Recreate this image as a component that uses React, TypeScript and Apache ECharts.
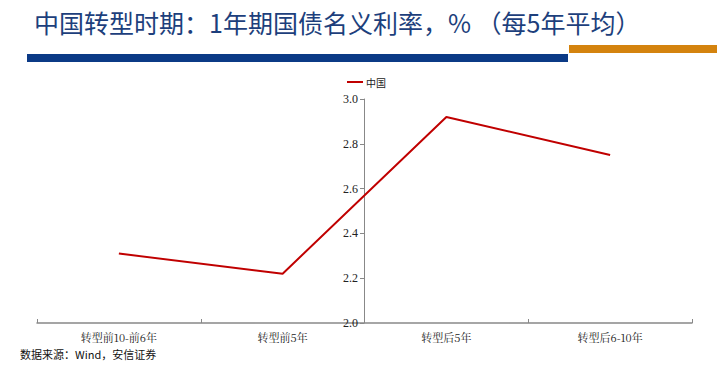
import React, { useEffect, useRef } from "react";
import * as echarts from "echarts";

const categories = ["转型前10-前6年", "转型前5年", "转型后5年", "转型后6-10年"];
const chinaValues = [2.31, 2.22, 2.92, 2.75];
const seriesName = "中国";
const titleText = "中国转型时期：1年期国债名义利率，% （每5年平均）";
const sourceText = "数据来源：Wind，安信证券";

const sans = '"Noto Sans CJK SC", "Noto Sans", sans-serif';

export default function App() {
  const ref = useRef<HTMLDivElement>(null);
  useEffect(() => {
    if (!ref.current) return;
    const chart = echarts.init(ref.current, undefined, { renderer: "svg" });
    chart.setOption({
      animation: false,
      backgroundColor: "#ffffff",
      graphic: [
        {
          type: "text",
          left: 34,
          top: 9,
          style: {
            text: titleText,
            fill: "#1d3f7c",
            fontSize: 25,
            fontFamily: sans,
          },
        },
        { type: "rect", shape: { x: 27, y: 54, width: 541, height: 8 }, style: { fill: "#0b3a86" } },
        { type: "rect", shape: { x: 569, y: 45, width: 148, height: 8 }, style: { fill: "#d4830e" } },
        {
          type: "text",
          left: 20,
          top: 348,
          style: {
            text: sourceText,
            fill: "#111",
            fontSize: 11,
            fontFamily: sans,
          },
        },
      ],
      legend: {
        top: 72,
        left: 342,
        itemWidth: 16,
        itemHeight: 2,
        icon: "rect",
        itemGap: 4,
        textStyle: { fontSize: 10, color: "#222", fontFamily: sans, padding: [0, 0, 0, -2] },
        data: [seriesName],
      },
      grid: { left: 37, right: 25, top: 99, bottom: 43 },
      xAxis: {
        type: "category",
        data: categories,
        boundaryGap: true,
        axisLine: { lineStyle: { color: "#888", width: 1.5 } },
        axisTick: { show: true, alignWithLabel: false, length: 4, inside: true, lineStyle: { color: "#888" } },
        axisLabel: { color: "#222", fontSize: 11, margin: 8, fontFamily: '"Noto Serif CJK SC", "Noto Sans CJK SC", serif' },
      },
      yAxis: {
        type: "value",
        min: 2.0,
        max: 3.0,
        interval: 0.2,
        offset: -327,
        axisLine: { show: true, lineStyle: { color: "#888", width: 1 } },
        axisTick: { show: true, length: 4, lineStyle: { color: "#888" } },
        splitLine: { show: false },
        axisLabel: {
          color: "#222",
          fontSize: 12,
          margin: 6,
          fontFamily: '"Liberation Serif", serif',
          formatter: (v: number) => v.toFixed(1),
        },
      },
      series: [
        {
          name: seriesName,
          type: "line",
          data: chinaValues,
          symbol: "none",
          lineStyle: { color: "#c00000", width: 2 },
          itemStyle: { color: "#c00000" },
        },
      ],
    });
    return () => chart.dispose();
  }, []);
  return <div ref={ref} style={{ width: 717, height: 366, position: "absolute", left: 0, top: 0 }} />;
}
